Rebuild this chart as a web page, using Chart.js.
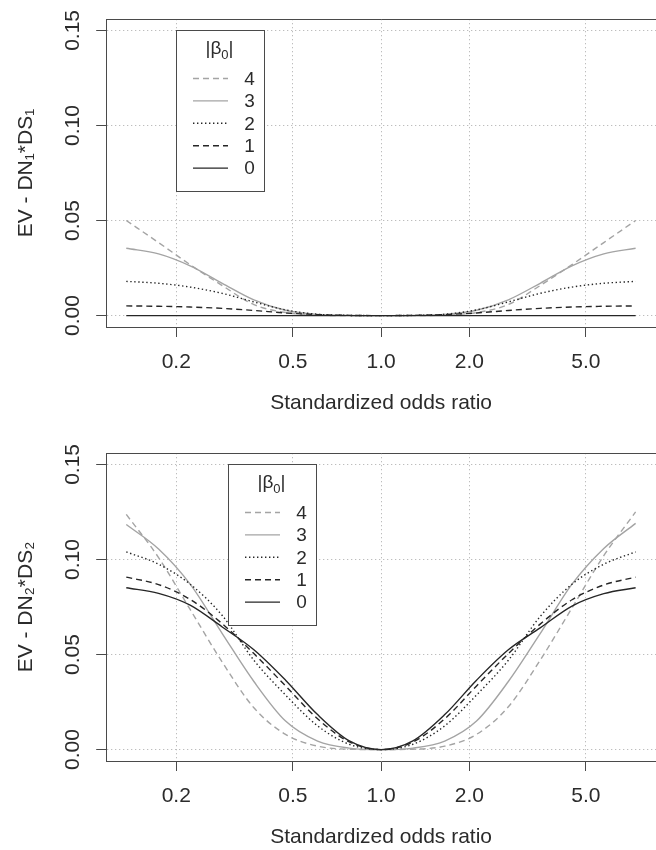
<!DOCTYPE html>
<html>
<head>
<meta charset="utf-8">
<script src="https://cdn.jsdelivr.net/npm/chart.js@4.4.1/dist/chart.umd.min.js"></script>
<style>
html, body { margin: 0; padding: 0; background: #ffffff; overflow: hidden; }
#wrap { position: relative; width: 656px; height: 850px; overflow: hidden; background: #fff; }
#wrap canvas { position: absolute; left: 0; }
</style>
</head>
<body>
<div id="wrap">
  <canvas id="c1" width="656" height="434" style="top:0px"></canvas>
  <canvas id="c2" width="656" height="434" style="top:434px"></canvas>
</div>
<script>
// ---------- data ----------
const ODDS_RATIO = [0.135, 0.174, 0.223, 0.287, 0.368, 0.472, 0.607, 0.779, 1.000,
                    1.284, 1.649, 2.117, 2.718, 3.490, 4.482, 5.755, 7.389];
const X_TICKS = [0.2, 0.5, 1.0, 2.0, 5.0];
const Y_TICKS = [0.00, 0.05, 0.10, 0.15];
const BETA0_LABELS = ['0', '1', '2', '3', '4'];

// Panel 1: EV - DN1*DS1
const TOP_B0 = [0, 0, 0, 0, 0, 0, 0, 0, 0, 0, 0, 0, 0, 0, 0, 0, 0];
const TOP_B1 = [0.0051, 0.0049, 0.0045, 0.0038, 0.0027, 0.0014, 0.0005, 0.0001, 0,
                0.0001, 0.0005, 0.0014, 0.0027, 0.0038, 0.0045, 0.0049, 0.0051];
const TOP_B2 = [0.0180, 0.0170, 0.0150, 0.0117, 0.0072, 0.0030, 0.0007, 0.0001, 0,
                0.0001, 0.0007, 0.0030, 0.0072, 0.0117, 0.0150, 0.0170, 0.0180];
const TOP_B3 = [0.0354, 0.0325, 0.0262, 0.0170, 0.0083, 0.0028, 0.0006, 0.0001, 0,
                0.0001, 0.0006, 0.0028, 0.0083, 0.0170, 0.0262, 0.0325, 0.0354];
const TOP_B4 = [0.0500, 0.0384, 0.0268, 0.0158, 0.0058, 0.0016, 0.0003, 0.0000, 0,
                0.0000, 0.0003, 0.0016, 0.0058, 0.0158, 0.0268, 0.0384, 0.0500];

// Panel 2: EV - DN2*DS2
const BOT_B0 = [0.0851, 0.0822, 0.0760, 0.0645, 0.0525, 0.0365, 0.0184, 0.0046, 0,
                0.0046, 0.0184, 0.0365, 0.0525, 0.0640, 0.0755, 0.0820, 0.0851];
const BOT_B1 = [0.0907, 0.0868, 0.0790, 0.0662, 0.0505, 0.0335, 0.0162, 0.0040, 0,
                0.0040, 0.0162, 0.0335, 0.0505, 0.0660, 0.0788, 0.0866, 0.0907];
const BOT_B2 = [0.1040, 0.0975, 0.0870, 0.0705, 0.0470, 0.0287, 0.0125, 0.0028, 0,
                0.0028, 0.0125, 0.0287, 0.0470, 0.0700, 0.0870, 0.0975, 0.1040];
const BOT_B3 = [0.1184, 0.1055, 0.0870, 0.0610, 0.0358, 0.0150, 0.0045, 0.0008, 0,
                0.0008, 0.0045, 0.0150, 0.0358, 0.0610, 0.0870, 0.1058, 0.1190];
const BOT_B4 = [0.1237, 0.1010, 0.0737, 0.0460, 0.0220, 0.0080, 0.0018, 0.0002, 0,
                0.0002, 0.0018, 0.0080, 0.0225, 0.0470, 0.0745, 0.1020, 0.1250];

// ---------- styles ----------
const FONT = '"Liberation Sans", Arial, Helvetica, sans-serif';
const TEXT = '#2b2b2b';
const AXIS = '#4a4a4a';
const GRID = '#bdbdbd';
const GRAY = '#a4a4a4';
const BLACK = '#262626';
const SERIES_STYLE = [
  { color: BLACK, dash: [] },          // 0
  { color: BLACK, dash: [6, 4] },      // 1
  { color: BLACK, dash: [1.4, 2.6] },  // 2
  { color: GRAY,  dash: [] },          // 3
  { color: GRAY,  dash: [6, 4] }       // 4
];

Chart.defaults.font.family = FONT;
Chart.defaults.color = TEXT;

function buildDatasets(seriesList) {
  return seriesList.map((vals, i) => ({
    label: BETA0_LABELS[i],
    data: ODDS_RATIO.map((x, j) => ({ x: x, y: vals[j] })),
    borderColor: SERIES_STYLE[i].color,
    borderDash: SERIES_STYLE[i].dash,
    borderWidth: 1.4,
    pointRadius: 0,
    fill: false,
    cubicInterpolationMode: 'monotone'
  }));
}

function drawSub(ctx, main1, sub, main2, cx, cy, size) {
  const subSize = Math.round(size * 0.7);
  ctx.font = size + 'px ' + FONT;
  const w1 = ctx.measureText(main1).width;
  const w3 = ctx.measureText(main2).width;
  ctx.font = subSize + 'px ' + FONT;
  const w2 = ctx.measureText(sub).width;
  let x = cx - (w1 + w2 + w3) / 2;
  const base = cy + size * 0.36;
  ctx.textAlign = 'left';
  ctx.textBaseline = 'alphabetic';
  ctx.font = size + 'px ' + FONT;
  ctx.fillText(main1, x, base); x += w1;
  ctx.font = subSize + 'px ' + FONT;
  ctx.fillText(sub, x, base + size * 0.22); x += w2;
  ctx.font = size + 'px ' + FONT;
  ctx.fillText(main2, x, base);
}

const rLegend = {
  id: 'rLegend',
  afterDatasetsDraw(chart, args, opts) {
    const { ctx, chartArea: ca, scales } = chart;
    ctx.save();
    // top side of the plot box
    ctx.strokeStyle = AXIS; ctx.lineWidth = 1; ctx.setLineDash([]);
    const ty = Math.round(ca.top) + 0.5;
    ctx.beginPath(); ctx.moveTo(ca.left, ty); ctx.lineTo(ca.right + 1, ty); ctx.stroke();
    // legend box
    const L = Math.round(scales.x.getPixelForValue(opts.at[0])) + 0.5;
    const T = Math.round(scales.y.getPixelForValue(opts.at[1])) + 0.5;
    const W = 88, H = 161;
    ctx.fillStyle = '#ffffff';
    ctx.fillRect(L, T, W, H);
    ctx.strokeRect(L, T, W, H);
    ctx.fillStyle = TEXT;
    drawSub(ctx, '|\u03B2', '0', '|', L + 43, T + 17, 19);
    const ds = chart.data.datasets;
    for (let k = 0; k < ds.length; k++) {
      const d = ds[ds.length - 1 - k];
      const yy = T + 48 + k * 22.4;
      ctx.strokeStyle = d.borderColor;
      ctx.lineWidth = d.borderWidth;
      ctx.setLineDash(d.borderDash || []);
      ctx.beginPath(); ctx.moveTo(L + 16.5, yy); ctx.lineTo(L + 51.5, yy); ctx.stroke();
      ctx.setLineDash([]);
      ctx.fillStyle = TEXT;
      ctx.font = '19px ' + FONT;
      ctx.textAlign = 'center';
      ctx.textBaseline = 'middle';
      ctx.fillText(d.label, L + 73, yy + 1);
    }
    ctx.restore();
  }
};

function makeChart(id, seriesList, yTitle, legendAt) {
  return new Chart(document.getElementById(id), {
    type: 'line',
    data: { datasets: buildDatasets(seriesList) },
    plugins: [rLegend],
    options: {
      responsive: false,
      animation: false,
      devicePixelRatio: 1,
      layout: { padding: { top: 19, bottom: 18, left: 0, right: 0 } },
      plugins: {
        legend: { display: false },
        tooltip: { enabled: false },
        rLegend: { at: legendAt }
      },
      scales: {
        x: {
          type: 'logarithmic',
          min: 0.1153,
          max: 8.673,
          afterBuildTicks: s => { s.ticks = X_TICKS.map(v => ({ value: v })); },
          afterFit: s => { s.height = 89; },
          ticks: {
            autoSkip: false, maxRotation: 0, minRotation: 0, padding: 12.9,
            font: { size: 21 }, color: TEXT,
            callback: v => Number(v).toFixed(1)
          },
          grid: { color: GRID, lineWidth: 1, tickLength: 10, tickColor: AXIS, tickWidth: 1, tickBorderDash: [] },
          border: { display: true, color: AXIS, width: 1, dash: [1.3, 2.7] },
          title: { display: true, text: 'Standardized odds ratio', font: { size: 21 }, color: TEXT, padding: { top: 0, bottom: 0 } }
        },
        y: {
          min: -0.006,
          max: 0.156,
          afterBuildTicks: s => { s.ticks = Y_TICKS.map(v => ({ value: v })); },
          afterFit: s => { s.width = 106.2; },
          ticks: {
            autoSkip: false, minRotation: 90, maxRotation: 90, crossAlign: 'center', padding: 2.3,
            font: { size: 21 }, color: TEXT,
            callback: v => Number(v).toFixed(2)
          },
          grid: { color: GRID, lineWidth: 1, tickLength: 10, tickColor: AXIS, tickWidth: 1, tickBorderDash: [] },
          border: { display: true, color: AXIS, width: 1, dash: [1.3, 2.7] },
          title: { display: true, text: yTitle, font: { size: 21 }, color: TEXT, padding: { top: 13.4, bottom: 0 } }
        }
      }
    }
  });
}

makeChart('c1', [TOP_B0, TOP_B1, TOP_B2, TOP_B3, TOP_B4], 'EV - DN\u2081*DS\u2081', [0.2, 0.15]);
makeChart('c2', [BOT_B0, BOT_B1, BOT_B2, BOT_B3, BOT_B4], 'EV - DN\u2082*DS\u2082', [0.3, 0.15]);
</script>
</body>
</html>
